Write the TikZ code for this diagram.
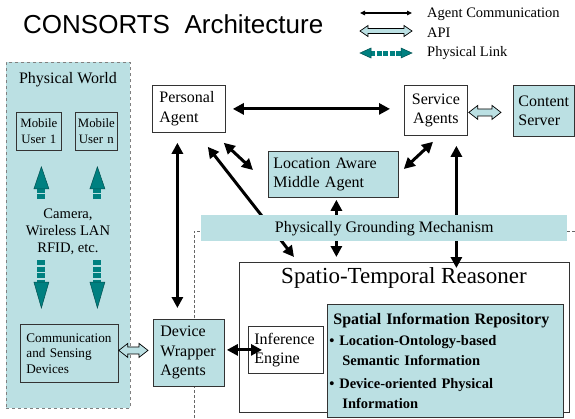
\documentclass[tikz,border=0pt]{standalone}
\usepackage{fontspec}
\setmainfont{Liberation Serif}
\newfontfamily\titlefont{Liberation Sans}
\usetikzlibrary{arrows.meta,calc}
\definecolor{lteal}{RGB}{187,224,227}
\definecolor{dteal}{RGB}{0,128,128}
\definecolor{dtealdark}{RGB}{0,80,80}
\newcommand\fbody{\fontsize{16}{19.5}\selectfont}
\newcommand\flegend{\fontsize{14.5}{17}\selectfont}
\newcommand\fcam{\fontsize{14.6}{17}\selectfont}
\newcommand\fmob{\fontsize{12.8}{16}\selectfont}
\newcommand\fcomm{\fontsize{13.2}{15.5}\selectfont}
\newcommand\fstr{\fontsize{23}{27}\selectfont}
\newcommand\frep{\bfseries\fontsize{14.5}{20}\selectfont}
% hollow double block arrow: start, end, head length, head half width, shaft half width
\newcommand\apiarr[5]{\filldraw[apistyle] let \p1=(#1), \p2=(#2) in
  (\x1,\y1) -- (\x1+#3,\y1+#4) -- (\x1+#3,\y1+#5) -- (\x2-#3,\y1+#5) -- (\x2-#3,\y1+#4) --
  (\x2,\y1) -- (\x2-#3,\y1-#4) -- (\x2-#3,\y1-#5) -- (\x1+#3,\y1-#5) -- (\x1+#3,\y1-#4) -- cycle;}
\newcommand\physup[2]{%
  \draw[physshaft] let \p1=(#1), \p2=(#2) in (\x2,\y1) -- (\x2,\y2-20pt);
  \filldraw[physhead] let \p2=(#2) in (\x2,\y2) -- (\x2-7.5pt,\y2-22pt) -- (\x2+7.5pt,\y2-22pt) -- cycle;}
\newcommand\physdown[2]{%
  \draw[physshaft] let \p1=(#1), \p2=(#2) in (\x2,\y1) -- (\x2,\y2+24pt);
  \filldraw[physhead] let \p2=(#2) in (\x2,\y2) -- (\x2-7.5pt,\y2+26pt) -- (\x2+7.5pt,\y2+26pt) -- cycle;}
\tikzset{
  box/.style={draw=black!80, line width=0.8pt, anchor=north west, inner ysep=0pt, align=left, font=\fbody},
  tbox/.style={box, fill=lteal},
  wbox/.style={box, fill=white},
  big/.style={line width=3pt, {Triangle[length=11pt,width=11pt]}-{Triangle[length=11pt,width=11pt]}},
  apistyle/.style={fill=lteal, draw=black, line width=0.7pt},
  physshaft/.style={draw=dteal, line width=8pt, dash pattern=on 5pt off 1.5pt},
  physhead/.style={fill=dteal, draw=dtealdark, line width=0.5pt},
}
\begin{document}
\begin{tikzpicture}[x=1pt,y=-1pt]
\fill[white] (0,0) rectangle (575,418);
\useasboundingbox (0,0) rectangle (575,418);

% title
\node[anchor=base west, font=\titlefont\fontsize{26}{30}\selectfont, inner sep=0] (title) at (23,33) {CONSORTS\ \ Architecture};

% legend
\coordinate (l1a) at (360,13); \coordinate (l1b) at (412,13);
\coordinate (l2a) at (360,31); \coordinate (l2b) at (412,31);
\coordinate (l3a) at (360,53); \coordinate (l3b) at (412,53);
\draw[line width=1.2pt, {Triangle[length=5pt,width=4.5pt]}-{Triangle[length=5pt,width=4.5pt]}] (l1a) -- (l1b);
\apiarr{l2a}{l2b}{8pt}{5.5pt}{2.5pt}
\draw[physshaft, line width=5pt, shorten <=10pt, shorten >=10pt] (l3a) -- (l3b);
\filldraw[physhead] let \p1=(l3a) in (\x1,\y1) -- (\x1+11pt,\y1+5pt) -- (\x1+11pt,\y1-5pt) -- cycle;
\filldraw[physhead] let \p1=(l3b) in (\x1,\y1) -- (\x1-11pt,\y1+5pt) -- (\x1-11pt,\y1-5pt) -- cycle;
\node[anchor=west, font=\flegend, inner sep=0] (lt1) at (427,14) {Agent Communication};
\node[anchor=west, font=\flegend, inner sep=0] (lt2) at (427,33) {API};
\node[anchor=west, font=\flegend, inner sep=0] (lt3) at (427,53) {Physical Link};

% physical world
\node[draw=black!50, dashed, line width=0.6pt, fill=lteal, anchor=north west, minimum width=124pt, minimum height=346pt, inner sep=0] (pw) at (6,62) {};
\node[font=\fbody] (pwt) at (68,80) {Physical World};
\node[tbox, font=\fmob, align=center, inner xsep=2pt, text width=41pt, minimum height=38pt] (mu1) at (16,112) {Mobile\\User 1};
\node[tbox, font=\fmob, align=center, inner xsep=2pt, text width=38pt, minimum height=38pt] (mun) at (75,112) {Mobile\\User n};
\node[font=\fcam, align=center] (cam) at (68,232) {Camera,\\Wireless LAN\\RFID, etc.};
\node[tbox, font=\fcomm, inner xsep=6pt, text width=86pt, minimum height=58pt] (comm) at (20,324) {Communication\\and Sensing\\Devices};
\coordinate (u1t) at ($(mu1.south)+(2.5,16)$);
\coordinate (u2t) at ($(mun.south)+(1,16)$);
\coordinate (u1b) at (41,199); \coordinate (u2b) at (97,199);
\coordinate (d1b) at (41,260); \coordinate (d2b) at (97,260);
\coordinate (d1t) at ($(comm.north)+(-28,-16)$);
\coordinate (d2t) at ($(comm.north)+(28,-16)$);
\physup{u1b}{u1t}
\physup{u2b}{u2t}
\physdown{d1b}{d1t}
\physdown{d2b}{d2t}

% dashed region outline
\draw[black!60, line width=0.6pt, dash pattern=on 3pt off 2pt] (194,418) -- (194,231) -- (580,231);

% boxes
\node[wbox, inner xsep=7pt, text width=59pt, minimum height=47pt] (pa) at (152,85) {Personal\\Agent};
\node[wbox, inner xsep=6pt, text width=51pt, minimum height=50pt, align=center] (sa) at (404,85) {Service\\Agents};
\node[tbox, inner xsep=5pt, text width=51pt, minimum height=51pt] (cs) at (513,85) {Content\\Server};
\node[tbox, inner xsep=5pt, text width=120pt, minimum height=46pt] (lama) at (268,151) {Location Aware\\Middle Agent};
\node[tbox, inner xsep=7pt, text width=57pt, minimum height=67pt] (dwa) at (153,319) {Device\\Wrapper\\Agents};
\node[wbox, minimum width=330pt, minimum height=150pt, inner sep=0] (st) at (239,262) {};
\node[font=\fstr] (stt) at (404,278) {Spatio-Temporal Reasoner};
\node[wbox, inner xsep=6pt, text width=63pt, minimum height=47pt] (ie) at (248,326) {Inference\\Engine};
\node[tbox, inner xsep=2pt, text width=232pt, minimum height=113pt, font=\frep] (rep) at (327,304)
  {{\fontsize{16}{20}\selectfont\hspace*{4pt}Spatial Information Repository}\\[1pt]
   \textbullet\ Location-Ontology-based\\
   \hspace*{13pt}Semantic Information\\[3pt]
   \textbullet\ Device-oriented Physical\\
   \hspace*{13pt}Information};

% API arrows
\apiarr{$(sa.east)+(1,2)$}{$(cs.west)+(-12,2)$}{9pt}{7pt}{3.5pt}
\apiarr{$(comm.east)+(0,-3)$}{$(dwa.west)+(-5,0)$}{9pt}{7pt}{3.5pt}

% agent communication arrows
\draw[big, shorten <=7pt, shorten >=14pt] (pa.east) -- (pa.east -| sa.west);
\draw[big, shorten <=10pt, shorten >=11pt] ([xshift=-11.5pt]pa.south) -- ([xshift=-11.5pt]pa.south |- dwa.north);
\draw[big] ($(pa.south east)+(-2,10)$) -- ($(lama.north west)+(-15,19)$);
\draw[big] ($(pa.south east)+(-18,14)$) -- ($(st.north west)+(55,-5)$);
\draw[big, shorten <=2pt, shorten >=5pt] ([xshift=3pt]lama.south) -- ([xshift=3pt]lama.south |- st.north);
\draw[big] ($(sa.south west)+(29,6)$) -- ($(lama.north east)+(5,18)$);
\draw[big, shorten <=10pt, shorten >=-6pt] ([xshift=20.5pt]sa.south) -- ([xshift=20.5pt]sa.south |- st.north);
\draw[big, shorten <=2pt, shorten >=-14pt] ([yshift=3pt]dwa.east) -- ([yshift=3pt]dwa.east -| ie.west);

% band
\node[fill=lteal, anchor=north west, minimum width=366pt, minimum height=26pt, inner sep=0, font=\fbody] (pg) at (201,215) {Physically Grounding Mechanism};
\end{tikzpicture}
\end{document}
